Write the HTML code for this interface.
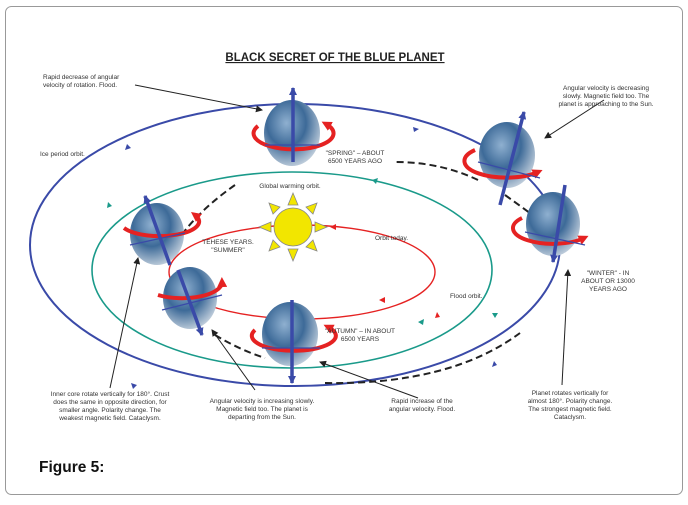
<!DOCTYPE html>
<html><head><meta charset="utf-8"><style>
body{margin:0;background:#fff;width:688px;height:500px;overflow:hidden;font-family:"Liberation Sans",sans-serif}
</style></head><body>
<svg width="688" height="500" viewBox="0 0 688 500" xmlns="http://www.w3.org/2000/svg" font-family="Liberation Sans, sans-serif">
<defs>
<radialGradient id="e" cx="40%" cy="35%" r="70%"><stop offset="0" stop-color="#8fb0d0"/><stop offset="0.5" stop-color="#3d6a98"/><stop offset="1" stop-color="#c8d4e0"/></radialGradient>
<marker id="ab" markerWidth="8" markerHeight="8" refX="7" refY="4" orient="auto" markerUnits="userSpaceOnUse"><path d="M0,0 L8,4 L0,8z" fill="#3a4aa8"/></marker>
<marker id="ak" markerWidth="7" markerHeight="7" refX="6" refY="3.5" orient="auto" markerUnits="userSpaceOnUse"><path d="M0,0 L7,3.5 L0,7z" fill="#222"/></marker>
<marker id="ar" markerWidth="10" markerHeight="10" refX="5" refY="5" orient="auto" markerUnits="userSpaceOnUse"><path d="M0,0 L10,5 L0,10z" fill="#e52222"/></marker>
</defs>
<rect x="5.5" y="6.5" width="677" height="488" rx="6" fill="#fff" stroke="#999"/>
<text x="335" y="61" font-size="11.5" font-weight="bold" text-anchor="middle" text-decoration="underline" fill="#222">BLACK SECRET OF THE BLUE PLANET</text>
<ellipse cx="295" cy="245" rx="265" ry="141" fill="none" stroke="#3a4aa8" stroke-width="2"/>
<ellipse cx="292" cy="270" rx="200" ry="98" fill="none" stroke="#1a9a8a" stroke-width="1.6"/>
<ellipse cx="302" cy="272" rx="133" ry="47" fill="none" stroke="#e52222" stroke-width="1.4"/>
<g fill="none" stroke="#222" stroke-width="2" stroke-dasharray="7,4">
<path d="M478,180 Q440,162 395,162"/>
<path d="M235,185 Q185,220 165,262"/>
<path d="M505,195 Q540,220 552,230"/>
<path d="M215,335 Q240,350 265,358"/>
<path d="M325,383 Q450,385 520,333"/>
</g>
<g fill="#f2e600" stroke="#888" stroke-width="0.8">
<polygon points="293,193 298,205 288,205"/><polygon points="293,261 298,249 288,249"/>
<polygon points="259,227 271,222 271,232"/><polygon points="327,227 315,222 315,232"/>
<polygon points="269,203 280,207 273,214"/><polygon points="317,203 313,214 306,207"/>
<polygon points="269,251 273,240 280,247"/><polygon points="317,251 306,247 313,240"/>
<circle cx="293" cy="227" r="19"/>
</g>
<g>
<ellipse cx="292" cy="133" rx="28" ry="33" fill="url(#e)"/>
<ellipse cx="507" cy="155" rx="28" ry="33" fill="url(#e)"/>
<ellipse cx="553" cy="224" rx="27" ry="32" fill="url(#e)"/>
<ellipse cx="157" cy="234" rx="27" ry="31" fill="url(#e)"/>
<ellipse cx="190" cy="298" rx="27" ry="31" fill="url(#e)"/>
<ellipse cx="290" cy="334" rx="28" ry="32" fill="url(#e)"/>
</g>
<g fill="none" stroke="#e52222" stroke-width="4">
<path d="M258,126 A40,16 0 1 0 326,124" marker-end="url(#ar)"/>
<path d="M475,150 A38,15 0 1 0 538,172" marker-end="url(#ar)"/>
<path d="M522,218 A38,15 0 1 0 584,238" marker-end="url(#ar)"/>
<path d="M124,228 A38,14 0 0 0 195,215" marker-end="url(#ar)"/>
<path d="M158,295 A40,16 0 0 0 222,282" marker-end="url(#ar)"/>
<path d="M255,330 A42,15 0 1 0 328,327" marker-end="url(#ar)"/>
</g>
<g stroke="#3a4aa8" stroke-width="3.5" fill="none" marker-end="url(#ab)">
<line x1="293" y1="162" x2="293" y2="88"/>
<line x1="500" y1="205" x2="524" y2="112"/>
<line x1="565" y1="185" x2="553" y2="262"/>
<line x1="170" y1="265" x2="145" y2="196"/>
<line x1="178" y1="270" x2="202" y2="335"/>
<line x1="292" y1="300" x2="292" y2="383"/>
</g>
<g stroke="#3a4aa8" stroke-width="1.2">
<line x1="265" y1="145" x2="320" y2="145"/><line x1="478" y1="162" x2="540" y2="178"/>
<line x1="525" y1="232" x2="585" y2="245"/><line x1="130" y1="245" x2="185" y2="233"/>
<line x1="162" y1="310" x2="222" y2="295"/><line x1="262" y1="348" x2="320" y2="348"/>
</g>
<g fill="#3a4aa8"><path d="M125,150 l2,-6 l4,4z"/><path d="M413,127 l6,2 l-5,3z"/><path d="M133,389 l-2,-6 l6,2z"/><path d="M497,365 l-5,2 l2,-6z"/></g>
<g fill="#1a9a8a"><path d="M107,208 l1,-6 l4,4z"/><path d="M372,180 l6,-2 l-2,6z"/><path d="M495,318 l-3,-5 l6,0z"/><path d="M418,322 l6,-3 l-1,6z"/></g>
<g fill="#e52222"><path d="M330,227 l6,-3 l0,6z"/><path d="M435,318 l2,-6 l3,5z"/><path d="M385,303 l-6,-3 l6,-3z"/></g>
<g stroke="#222" stroke-width="1" marker-end="url(#ak)">
<line x1="135" y1="85" x2="262" y2="110"/>
<line x1="604" y1="100" x2="545" y2="138"/>
<line x1="110" y1="388" x2="138" y2="258"/>
<line x1="255" y1="390" x2="212" y2="330"/>
<line x1="418" y1="398" x2="320" y2="362"/>
<line x1="562" y1="385" x2="568" y2="270"/>
</g>
<g font-size="6.5" fill="#333">
<text x="43" y="79">Rapid decrease of angular</text><text x="43" y="87">velocity of rotation. Flood.</text>
<text x="40" y="156">Ice period orbit.</text>
<g text-anchor="middle">
<text x="606" y="90">Angular velocity is decreasing</text><text x="606" y="98">slowly. Magnetic field too. The</text><text x="606" y="106">planet is approaching to the Sun.</text>
<text x="355" y="155">"SPRING" – ABOUT</text><text x="355" y="163">6500 YEARS AGO</text>
<text x="290" y="188">Global warming orbit.</text>
<text x="228" y="244">TEHESE YEARS.</text><text x="228" y="252">"SUMMER"</text>
<text x="608" y="275">"WINTER" - IN</text><text x="608" y="283">ABOUT OR 13000</text><text x="608" y="291">YEARS AGO</text>
<text x="360" y="333">"AUTUMN" –  IN ABOUT</text><text x="360" y="341">6500 YEARS</text>
<text x="110" y="396">Inner core rotate vertically for 180°. Crust</text><text x="110" y="404">does the same in opposite direction, for</text><text x="110" y="412">smaller angle. Polarity change. The</text><text x="110" y="420">weakest magnetic field. Cataclysm.</text>
<text x="262" y="403">Angular velocity is increasing slowly.</text><text x="262" y="411">Magnetic field too. The planet is</text><text x="262" y="419">departing from the Sun.</text>
<text x="422" y="403">Rapid increase of the</text><text x="422" y="411">angular velocity. Flood.</text>
<text x="570" y="395">Planet rotates vertically for</text><text x="570" y="403">almost 180°. Polarity change.</text><text x="570" y="411">The strongest magnetic field.</text><text x="570" y="419">Cataclysm.</text>
</g>
<text x="375" y="240">Orbit today.</text>
<text x="450" y="298">Flood orbit.</text>
</g>
<text x="39" y="472" font-size="15.5" font-weight="bold" fill="#111">Figure 5:</text>
</svg>
</body></html>
